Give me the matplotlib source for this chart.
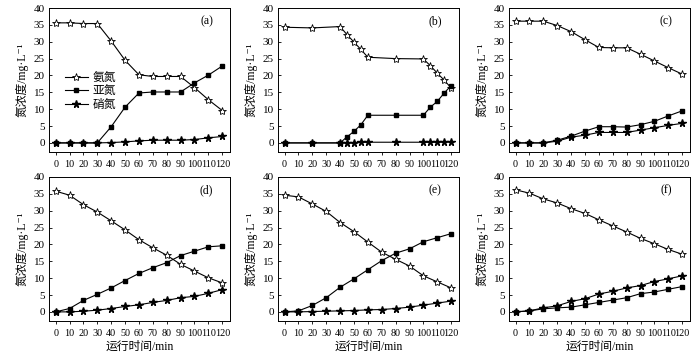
import numpy as np
import matplotlib
matplotlib.use("Agg")
from matplotlib import pyplot as plt

plt.rcParams['font.family'] = ['Liberation Serif', 'Noto Sans CJK SC', 'DejaVu Sans']

# time points (min)
t_std = [0, 10, 20, 30, 40, 50, 60, 70, 80, 90, 100, 110, 120]
t_b = [0, 20, 40, 45, 50, 55, 60, 80, 100, 105, 110, 115, 120]

# (a)
nh4_a = [35.6, 35.6, 35.4, 35.4, 30.2, 24.5, 20.2, 19.7, 19.7, 19.7, 16.4, 12.8, 9.6]
no2_a = [0, 0, 0, 0, 4.8, 10.6, 14.8, 15.1, 15.1, 15.1, 17.8, 20.1, 22.8]
no3_a = [0, 0, 0, 0, 0.1, 0.3, 0.6, 0.8, 0.8, 0.8, 1.0, 1.5, 1.9]
# (b)
nh4_b = [34.3, 34.1, 34.5, 32.1, 29.9, 27.7, 25.4, 25.0, 24.9, 22.9, 20.7, 18.6, 16.3]
no2_b = [0, 0, 0, 1.8, 3.4, 5.4, 8.2, 8.2, 8.2, 10.6, 12.3, 14.8, 17.0]
no3_b = [0, 0, 0, 0.1, 0.1, 0.2, 0.2, 0.2, 0.2, 0.2, 0.3, 0.3, 0.4]
# (c)
nh4_c = [36.1, 36.1, 36.1, 34.8, 33.0, 30.6, 28.3, 28.2, 28.2, 26.3, 24.3, 22.3, 20.4]
no2_c = [0, 0, 0, 0.8, 2.0, 3.5, 4.8, 4.8, 4.7, 5.4, 6.4, 8.0, 9.5]
no3_c = [0, 0, 0, 0.5, 1.7, 2.3, 3.1, 3.1, 3.1, 3.8, 4.5, 5.2, 5.8]
# (d)
nh4_d = [35.8, 34.6, 31.8, 29.6, 27.0, 24.3, 21.4, 19.0, 16.8, 14.1, 12.1, 10.1, 8.6]
no2_d = [0, 1.0, 3.4, 5.2, 7.1, 9.3, 11.4, 13.1, 14.6, 16.7, 18.0, 19.3, 19.6]
no3_d = [0, 0, 0.2, 0.5, 1.0, 1.6, 2.1, 2.8, 3.4, 4.2, 4.6, 5.5, 6.6]
# (e)
nh4_e = [34.6, 34.1, 32.0, 29.8, 26.5, 23.8, 20.7, 17.7, 15.6, 13.6, 10.7, 8.9, 7.1]
no2_e = [0, 0.3, 1.9, 4.2, 7.3, 9.8, 12.5, 15.2, 17.4, 18.7, 20.8, 22.0, 23.2]
no3_e = [0, 0, 0.1, 0.2, 0.3, 0.4, 0.6, 0.7, 1.0, 1.4, 2.0, 2.6, 3.2]
# (f)
nh4_f = [36.2, 35.2, 33.5, 32.3, 30.6, 29.2, 27.3, 25.5, 23.7, 21.8, 20.2, 18.5, 17.1]
no2_f = [0, 0.3, 0.9, 1.2, 1.4, 2.1, 2.8, 3.5, 4.2, 5.4, 5.9, 6.7, 7.5]
no3_f = [0, 0.3, 1.2, 1.8, 3.1, 3.9, 5.3, 6.1, 7.1, 7.8, 9.0, 9.8, 10.7]

panels = [
    ('(a)', t_std, nh4_a, no2_a, no3_a),
    ('(b)', t_b, nh4_b, no2_b, no3_b),
    ('(c)', t_std, nh4_c, no2_c, no3_c),
    ('(d)', t_std, nh4_d, no2_d, no3_d),
    ('(e)', t_std, nh4_e, no2_e, no3_e),
    ('(f)', t_std, nh4_f, no2_f, no3_f),
]

fig = plt.figure(figsize=(7, 3.58), dpi=100)
lefts = [0.070, 0.397, 0.727]
bottoms = [0.5754, 0.1034]
w, h = 0.2586, 0.4022

for i, (tag, t, nh4, no2, no3) in enumerate(panels):
    row, col = divmod(i, 3)
    ax = fig.add_axes([lefts[col], bottoms[row], w, h])
    ax.plot(t, nh4, color='black', lw=0.8, marker='*', ms=6,
            mfc='white', mec='black', mew=0.6, label='氨氮')
    ax.plot(t, no2, color='black', lw=0.8, marker='s', ms=3.5,
            mfc='black', mec='black', label='亚氮')
    ax.plot(t, no3, color='black', lw=0.8, marker='*', ms=5.5,
            mfc='black', mec='black', label='硝氮')
    ax.set_xlim(-4.8, 125.6)
    ax.set_ylim(-2.7, 40)
    ax.set_xticks(np.arange(0, 121, 10))
    ax.set_yticks(np.arange(0, 41, 5))
    ax.tick_params(axis='x', direction='out', length=2.5, width=0.6,
                   labelsize=7.3, pad=3)
    ax.tick_params(axis='y', direction='in', length=2.5, width=0.6,
                   labelsize=8, pad=3)
    for s in ax.spines.values():
        s.set_linewidth(0.7)
    ax.set_ylabel('氮浓度/mg·L⁻¹', fontsize=8.5, labelpad=4)
    ax.text(0.87, 0.91, tag, transform=ax.transAxes, fontsize=8.5,
            ha='center', va='center')
    if row == 1:
        ax.set_xlabel('运行时间/min', fontsize=8.5, labelpad=2)
    if i == 0:
        ax.legend(loc='center left', bbox_to_anchor=(0.04, 0.42), frameon=False,
                  fontsize=8.5, handlelength=2.0, handletextpad=0.4,
                  labelspacing=0.1, borderpad=0.2)

fig.savefig('out.png', dpi=100)
